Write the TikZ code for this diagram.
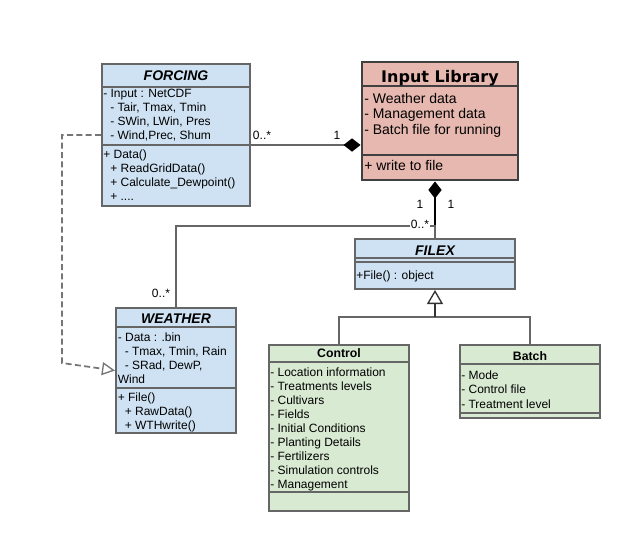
\documentclass[tikz,border=0pt]{standalone}
\usepackage{fontspec}
\setmainfont{Liberation Sans}
\newfontfamily\headfont{DejaVu Sans}
\usepackage{tikz}
\usetikzlibrary{arrows.meta}
\usetikzlibrary{fit}
\definecolor{clsblue}{HTML}{CFE2F3}
\definecolor{clsgreen}{HTML}{D9EAD3}
\definecolor{clsred}{HTML}{E6B8AF}
\definecolor{edgegray}{HTML}{666666}
\newcommand{\indsp}{\hspace*{5.25pt}}

\begin{document}
\begin{tikzpicture}[x=0.75pt,y=0.75pt,yscale=-1,xscale=1,
  classbox/.style={draw=edgegray, line width=1.5pt, inner sep=0pt},
  compline/.style={draw=edgegray, line width=1.2pt},
  txt/.style={anchor=base west, inner sep=0pt, font=\fontsize{9}{10.5}\selectfont},
  libtxt/.style={anchor=base west, inner sep=0pt, font=\fontsize{10.5}{12}\selectfont},
  ttl/.style={anchor=base, inner sep=0pt, font=\fontsize{10.5}{12}\selectfont\bfseries\itshape},
  ttlplain/.style={anchor=base, inner sep=0pt, font=\fontsize{9.2}{10.5}\selectfont\bfseries},
  libttl/.style={anchor=base, inner sep=0pt, font=\fontsize{12}{14}\headfont\bfseries},
  mult/.style={anchor=base, inner sep=0.75pt, font=\fontsize{9}{10.5}\selectfont},
  assocedge/.style={draw=edgegray, line width=1.1pt},
  compedge/.style={draw=black, line width=1.1pt, {Diamond[length=12.75pt,width=10pt]}-},
  realizeedge/.style={draw=edgegray!90, line width=1.3pt, dash pattern=on 4.5pt off 2.5pt, -{Triangle[length=9.75pt,width=9.75pt,fill=white,line width=1pt]}},
  genedge/.style={draw=black!80, line width=1.1pt, -{Triangle[length=10.5pt,width=12pt,fill=white,line width=1pt]}}
]
\fill[white] (0,0) rectangle (622,533);
\useasboundingbox (0,0) rectangle (622,533);

%Class FORCING
\node[classbox, fill=clsblue, fit={(102,64) (250,206)}] (forcing) {};
\draw[compline] (102,87) -- (250,87);
\draw[compline] (102,145) -- (250,145);
%Class Input Library
\node[classbox, fill=clsred, draw=black!75, line width=2.2pt, fit={(362,62) (518,180)}] (input) {};
\draw[compline, draw=black!75, line width=2pt] (362,86) -- (518,86);
\draw[compline, draw=black!75, line width=2pt] (362,155) -- (518,155);
%Class FILEX
\node[classbox, fill=clsblue, fit={(355,239) (515,289)}] (filex) {};
\draw[compline] (355,258) -- (515,258);
\draw[compline] (355,262) -- (515,262);
%Class WEATHER
\node[classbox, fill=clsblue, fit={(116,308) (236,433)}] (weather) {};
\draw[compline] (116,327) -- (236,327);
\draw[compline] (116,388) -- (236,388);
%Class Control
\node[classbox, fill=clsgreen, fit={(269,345) (409,511)}] (control) {};
\draw[compline] (269,362) -- (409,362);
\draw[compline] (269,492) -- (409,492);
%Class Batch
\node[classbox, fill=clsgreen, fit={(460,345) (600,418)}] (batch) {};
\draw[compline] (460,364) -- (600,364);
\draw[compline] (460,413) -- (600,413);

%Connectors
\draw[assocedge, {Diamond[length=12.75pt,width=10pt,color=black]}-] (input.west |- 0,145) -- (forcing.east |- 0,145);
\draw[compedge] (input.south -| filex.north) -- (filex.north);
\draw[assocedge] (weather.north) |- (filex.north |- 0,226) -- (filex.north);
\draw[realizeedge] (forcing.west |- 0,135) -- (62,135) -- (62,363) -- (weather.west);
\coordinate (genjoin) at (435,317);
\draw[assocedge] (control.north) |- (genjoin) -| (batch.north);
\draw[genedge] (genjoin) -- (filex.south);

% Text Node
\node[ttl] (forcing title) at (176,80) {FORCING};
\node[txt] (forcing a1) at (103,97.6) {- Input : NetCDF};
\node[txt] (forcing a2) at (103,111.7) {\indsp- Tair, Tmax, Tmin};
\node[txt] (forcing a3) at (103,125.8) {\indsp- SWin, LWin, Pres};
\node[txt] (forcing a4) at (103,139.9) {\indsp- Wind,Prec, Shum};
\node[txt] (forcing m1) at (103,158.6) {+ Data()};
\node[txt] (forcing m2) at (103,172.7) {\indsp+ ReadGridData()};
\node[txt] (forcing m3) at (103,186.8) {\indsp+ Calculate\_Dewpoint()};
\node[txt] (forcing m4) at (103,200.9) {\indsp+ ....};
% Text Node
\node[libttl] (input title) at (440,82) {Input Library};
\node[libtxt] (input a1) at (364,103) {- Weather data};
\node[libtxt] (input a2) at (364,118.5) {- Management data};
\node[libtxt] (input a3) at (364,134) {- Batch file for running};
\node[libtxt] (input m1) at (364,170) {+ write to file};
% Text Node
\node[ttl] (filex title) at (435,255) {FILEX};
\node[txt] (filex m1) at (356,279.3) {+File() : object};
% Text Node
\node[ttl] (weather title) at (176,323) {WEATHER};
\node[txt] (weather a1) at (117.5,341.3) {- Data : .bin};
\node[txt] (weather a2) at (117.5,355.3) {\indsp- Tmax, Tmin, Rain};
\node[txt] (weather a3) at (117.5,369.3) {\indsp- SRad, DewP,};
\node[txt] (weather a4) at (117.5,383.3) {Wind};
\node[txt] (weather m1) at (117.5,401.3) {+ File()};
\node[txt] (weather m2) at (117.5,415.3) {\indsp+ RawData()};
\node[txt] (weather m3) at (117.5,429) {\indsp+ WTHwrite()};
% Text Node
\node[ttlplain] (control title) at (339,357.3) {Control};
\node[txt] (control a1) at (270,376.3) {- Location information};
\node[txt] (control a2) at (270,390.3) {- Treatments levels};
\node[txt] (control a3) at (270,404.3) {- Cultivars};
\node[txt] (control a4) at (270,418.3) {- Fields};
\node[txt] (control a5) at (270,432.3) {- Initial Conditions};
\node[txt] (control a6) at (270,446.3) {- Planting Details};
\node[txt] (control a7) at (270,460.3) {- Fertilizers};
\node[txt] (control a8) at (270,474.3) {- Simulation controls};
\node[txt] (control a9) at (270,488.3) {- Management};
% Text Node
\node[ttlplain] (batch title) at (530,360.3) {Batch};
\node[txt] (batch a1) at (461,379.3) {- Mode};
\node[txt] (batch a2) at (461,393.6) {- Control file};
\node[txt] (batch a3) at (461,408) {- Treatment level};

% Multiplicities
\node[mult] (forcing many) at (262,139) {0..*};
\node[mult] (forcing one) at (337,139) {1};
\node[mult] (filex one left) at (420,208.3) {1};
\node[mult] (filex one right) at (451,208.3) {1};
\node[mult, fill=white, inner sep=1pt] (filex many) at (420,228) {0..*};
\node[mult] (weather many) at (161,297) {0..*};

\end{tikzpicture}
\end{document}
